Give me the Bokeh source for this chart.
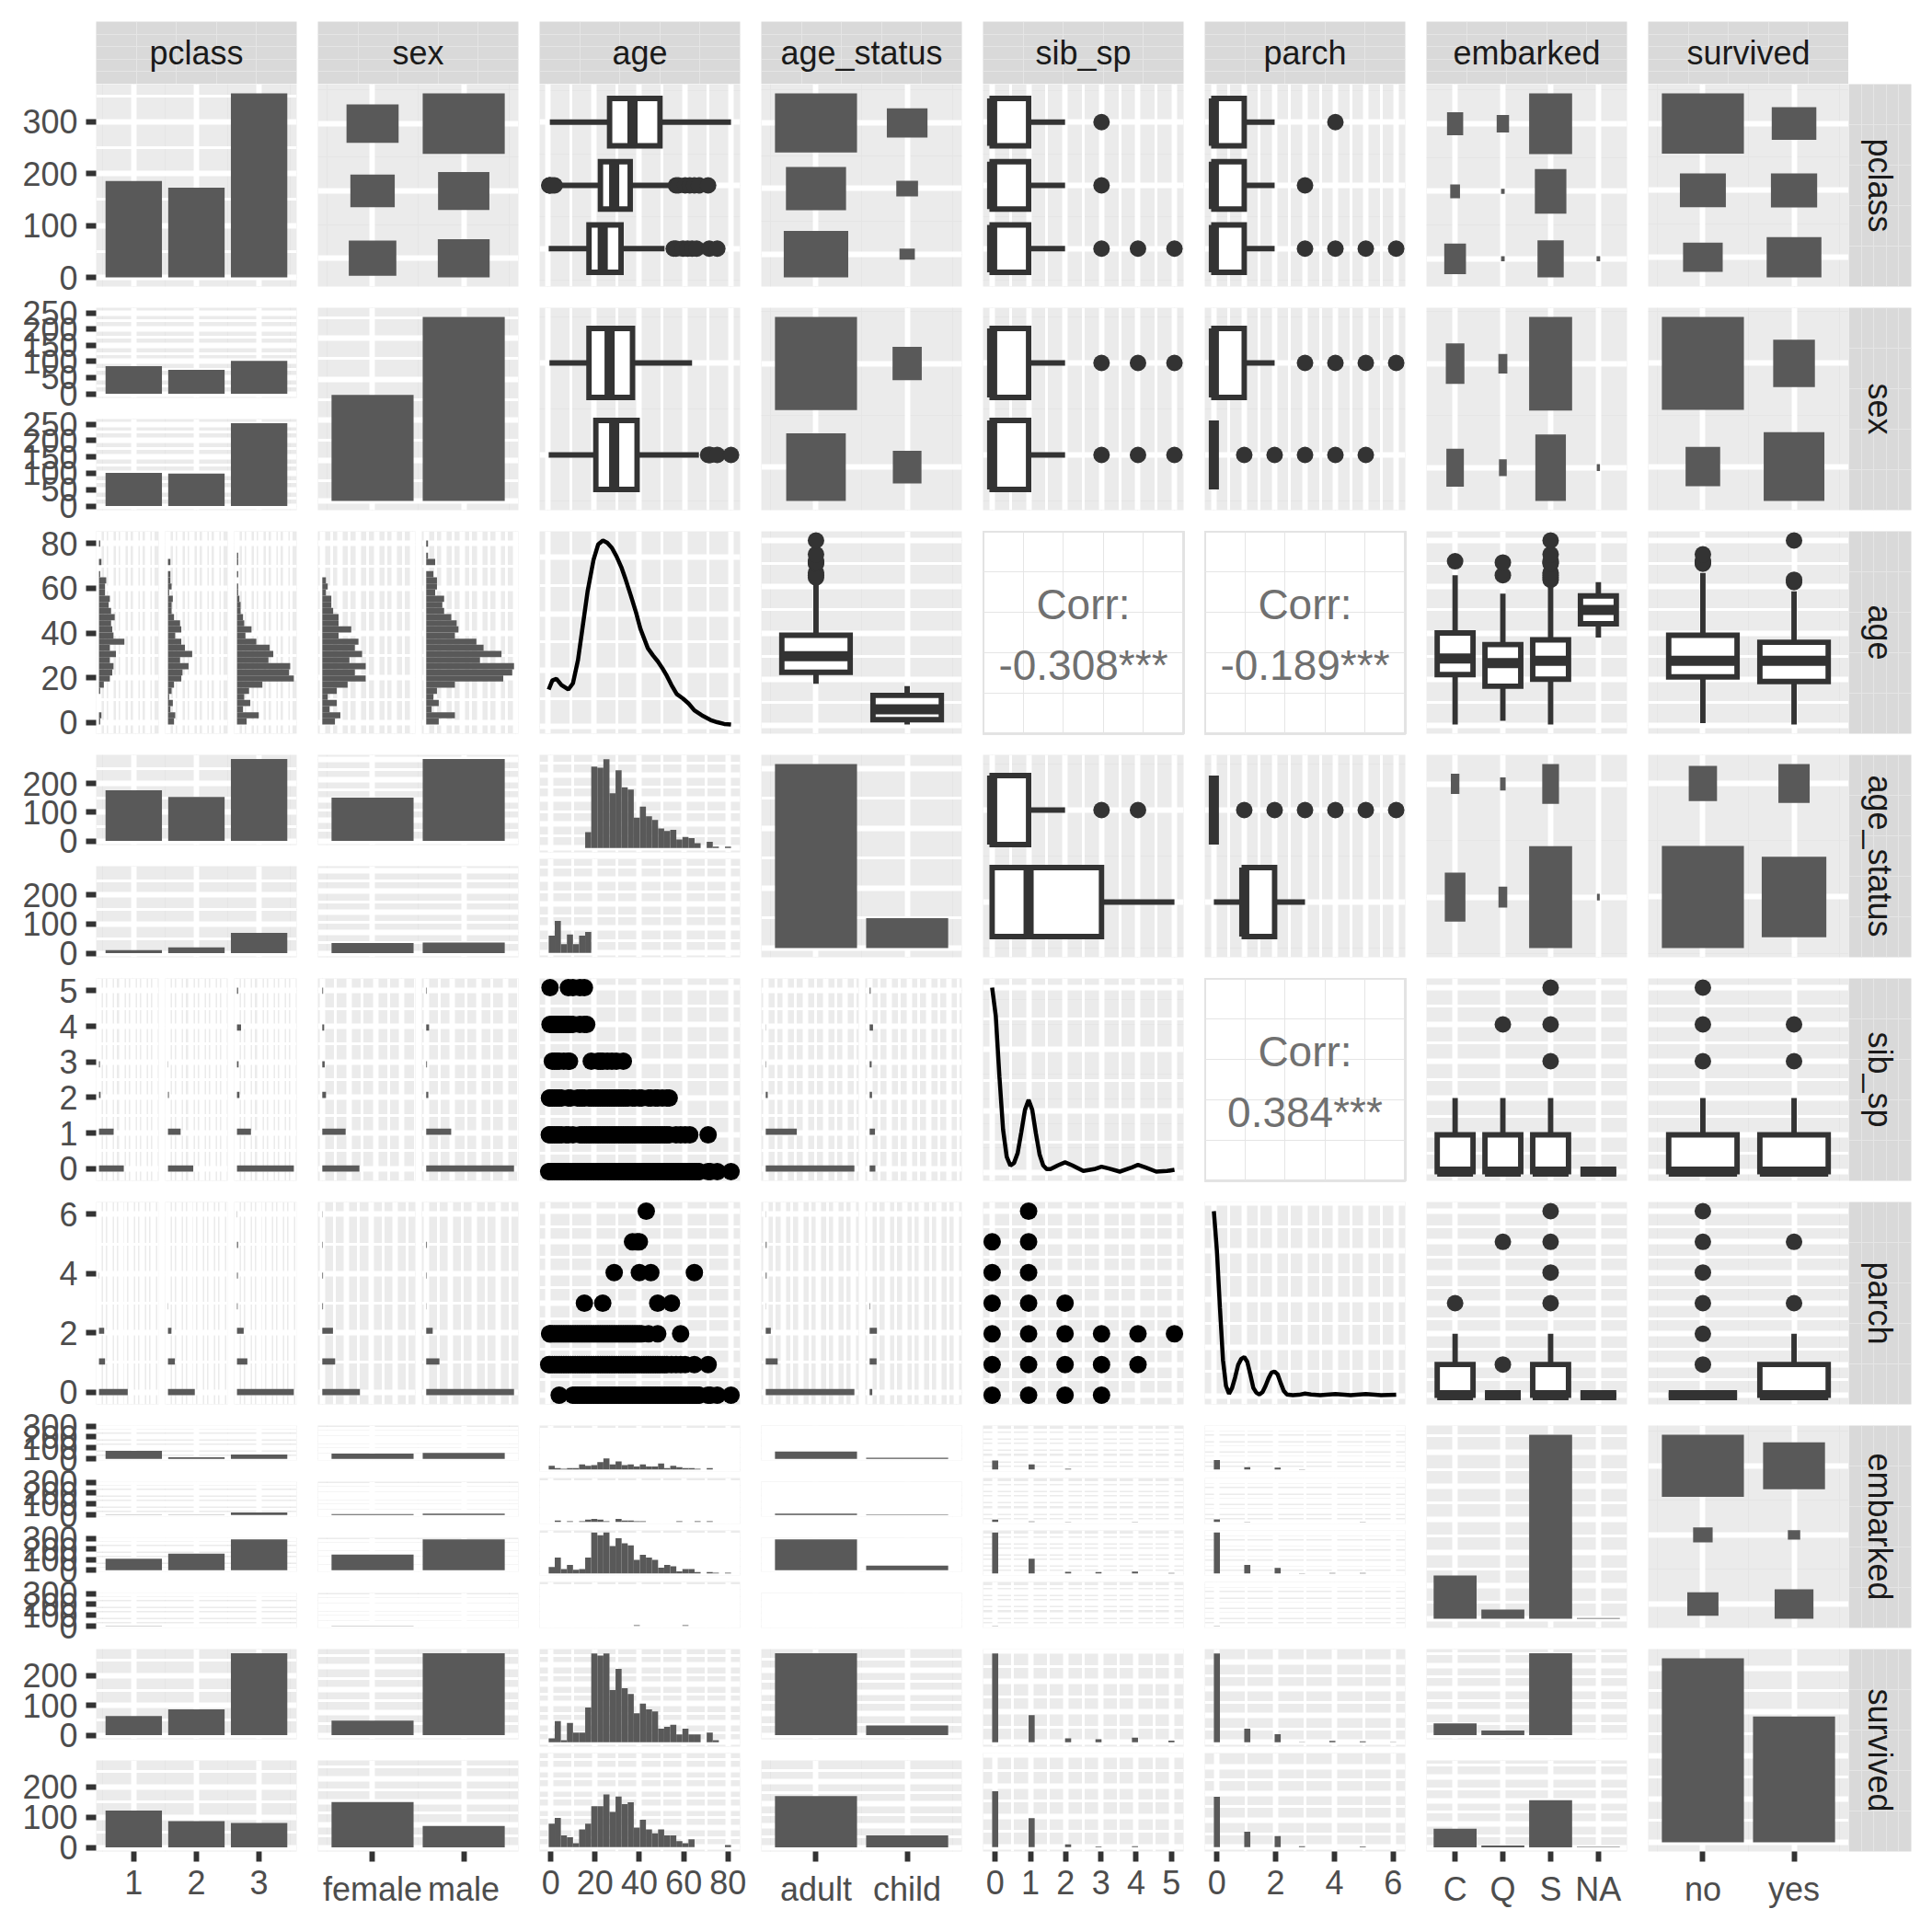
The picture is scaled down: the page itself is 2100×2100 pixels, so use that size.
import math
from bokeh.plotting import figure
from bokeh.layouts import column, row
from bokeh.models import Range1d, FixedTicker, Grid, LinearAxis, Spacer
from bokeh.core.properties import value
from bokeh.embed import file_html
from bokeh.resources import INLINE

# ======================= DATA =======================
variables = ["pclass", "sex", "age", "age_status", "sib_sp", "parch", "embarked", "survived"]
pclass_levels = ["1", "2", "3"]
sex_levels = ["female", "male"]
age_status_levels = ["adult", "child"]
embarked_levels = ["C", "Q", "S", "NA"]
survived_levels = ["no", "yes"]

pclass_counts = [186, 173, 355]
sex_counts = [261, 453]
age_status_counts = [614, 100]
embarked_counts = [130, 28, 554, 2]
survived_counts = [424, 290]

# cross tables [first variable level][second variable level]
pclass_by_sex = [[85, 101], [74, 99], [102, 253]]
pclass_by_age_status = [[176, 10], [153, 20], [285, 70]]
pclass_by_embarked = [[74, 2, 108, 2], [15, 2, 156, 0], [41, 24, 290, 0]]
pclass_by_survived = [[64, 122], [86, 87], [274, 81]]
sex_by_age_status = [[212, 49], [402, 51]]
sex_by_embarked = [[61, 12, 186, 2], [69, 16, 368, 0]]
sex_by_survived = [[64, 197], [360, 93]]
age_status_by_embarked = [[111, 20, 481, 2], [19, 8, 73, 0]]
age_status_by_survived = [[379, 235], [45, 55]]
embarked_by_survived = [[51, 79], [20, 8], [353, 201], [0, 2]]

# continuous variables
age_min, age_max = 0.42, 80
sib_sp_values = [0, 1, 2, 3, 4, 5]
parch_values = [0, 1, 2, 3, 4, 5, 6]

# age histograms (30 bins) per group level
age_hist_by_pclass = [
    [1, 2, 0, 0, 0, 1, 4, 9, 11, 12, 9, 14, 9, 21, 12, 11, 10, 13, 10, 8, 9, 5, 5, 6, 1, 0, 2, 0, 0, 1],
    [5, 6, 2, 4, 1, 3, 5, 11, 12, 17, 10, 20, 14, 11, 6, 11, 10, 5, 3, 3, 4, 1, 3, 2, 2, 0, 2, 0, 0, 0],
    [8, 18, 5, 11, 6, 10, 21, 47, 43, 44, 26, 30, 27, 16, 7, 12, 6, 5, 3, 3, 2, 1, 1, 0, 1, 0, 1, 1, 0, 0]]
age_hist_by_sex = [
    [7, 10, 4, 8, 3, 8, 14, 24, 18, 24, 15, 22, 18, 20, 9, 16, 9, 9, 6, 5, 5, 2, 3, 2, 0, 0, 0, 0, 0, 0],
    [7, 16, 3, 7, 4, 6, 16, 43, 48, 49, 30, 42, 32, 28, 16, 18, 17, 14, 10, 9, 10, 5, 6, 6, 4, 0, 5, 1, 0, 1]]
age_hist_by_age_status = [
    [0, 0, 0, 0, 0, 0, 13, 67, 66, 73, 45, 64, 50, 48, 25, 34, 26, 23, 16, 14, 15, 7, 9, 8, 4, 0, 5, 1, 0, 1],
    [14, 26, 7, 15, 7, 14, 17, 0, 0, 0, 0, 0, 0, 0, 0, 0, 0, 0, 0, 0, 0, 0, 0, 0, 0, 0, 0, 0, 0, 0]]
age_hist_by_embarked = [
    [5, 2, 1, 2, 2, 7, 5, 6, 10, 15, 7, 11, 6, 7, 4, 7, 4, 4, 8, 2, 5, 3, 2, 2, 1, 0, 2, 0, 0, 0],
    [0, 2, 0, 1, 0, 1, 3, 4, 3, 1, 0, 4, 2, 2, 1, 1, 0, 0, 0, 0, 0, 1, 0, 0, 1, 0, 1, 0, 0, 0],
    [9, 22, 6, 12, 5, 6, 22, 57, 53, 57, 38, 49, 42, 39, 19, 26, 22, 19, 8, 12, 10, 3, 6, 6, 2, 0, 2, 1, 0, 1],
    [0, 0, 0, 0, 0, 0, 0, 0, 0, 0, 0, 0, 0, 0, 1, 0, 0, 0, 0, 0, 0, 0, 1, 0, 0, 0, 0, 0, 0, 0]]
age_hist_by_survived = [
    [2, 11, 1, 10, 5, 5, 18, 46, 45, 46, 27, 38, 28, 25, 15, 20, 17, 16, 7, 8, 9, 4, 7, 4, 4, 0, 5, 1, 0, 0],
    [12, 15, 6, 5, 2, 9, 12, 21, 21, 27, 18, 26, 22, 23, 10, 14, 9, 7, 9, 6, 6, 3, 2, 4, 0, 0, 0, 0, 0, 1]]

# sib_sp counts per value (0..5) per group level
sib_sp_by_pclass = [[110, 65, 7, 4, 0, 0], [112, 56, 4, 1, 0, 0], [252, 62, 11, 7, 18, 5]]
sib_sp_by_sex = [[140, 88, 14, 9, 7, 3], [334, 95, 8, 3, 11, 2]]
sib_sp_by_age_status = [[445, 156, 10, 2, 1, 0], [29, 27, 12, 10, 17, 5]]
sib_sp_by_embarked = [[80, 45, 5, 0, 0, 0], [20, 4, 2, 0, 2, 0], [372, 134, 15, 12, 16, 5], [2, 0, 0, 0, 0, 0]]
sib_sp_by_survived = [[292, 89, 13, 10, 15, 5], [182, 94, 9, 2, 3, 0]]

# parch counts per value (0..6) per group level
parch_by_pclass = [[133, 28, 24, 0, 1, 0, 0], [124, 32, 16, 1, 0, 0, 0], [263, 48, 31, 3, 4, 5, 1]]
parch_by_sex = [[155, 53, 44, 3, 3, 2, 1], [365, 55, 27, 1, 2, 3, 0]]
parch_by_age_status = [[505, 68, 29, 1, 5, 5, 1], [15, 40, 42, 3, 0, 0, 0]]
parch_by_embarked = [[90, 22, 17, 1, 0, 0, 0], [25, 2, 0, 0, 0, 1, 0], [403, 84, 54, 3, 5, 4, 1], [2, 0, 0, 0, 0, 0, 0]]
parch_by_survived = [[333, 51, 30, 1, 5, 3, 1], [187, 57, 41, 3, 0, 2, 0]]

# boxplot stats: (lower whisker, q1, median, q3, upper whisker, outliers)
age_box_by_pclass = [(0.92, 27, 37, 49, 80, []),
                     (4, 23, 29, 36, 54, [0.67, 0.83, 1, 2, 3, 56, 57, 60, 62, 64, 66, 70]),
                     (0.42, 18, 24, 32, 51, [55, 56, 59, 61, 63, 65, 70.5, 74])]
age_box_by_sex = [(0.75, 18, 27, 37, 63, []), (0.42, 21, 29, 39, 66, [70, 70.5, 71, 74, 80])]
age_box_by_age_status = [(18, 23, 30, 39, 63, [64, 65, 66, 70, 70.5, 71, 74, 80]), (0.42, 2.5, 7, 13, 17, [])]
age_box_by_embarked = [(0.42, 22, 29, 40, 65, [71]), (2, 17, 27, 35, 57, [65, 70.5]),
                       (0.42, 20, 28, 37, 61, [63, 64, 65, 66, 70, 70.5, 71, 74, 80]), (38, 44, 50, 56, 62, [])]
age_box_by_survived = [(1, 21, 28, 39, 66, [70, 70.5, 71, 74]), (0.42, 19, 28, 36, 58, [62, 63, 80])]
sib_sp_box_by_pclass = [(0, 0, 0, 1, 2, [3]), (0, 0, 0, 1, 2, [3]), (0, 0, 0, 1, 2, [3, 4, 5])]
sib_sp_box_by_sex = [(0, 0, 0, 1, 2, [3, 4, 5]), (0, 0, 0, 1, 2, [3, 4, 5])]
sib_sp_box_by_age_status = [(0, 0, 0, 1, 2, [3, 4]), (0, 0, 1, 3, 5, [])]
sib_sp_box_by_embarked = [(0, 0, 0, 1, 2, []), (0, 0, 0, 1, 2, [4]), (0, 0, 0, 1, 2, [3, 4, 5]), (0, 0, 0, 0, 0, [])]
sib_sp_box_by_survived = [(0, 0, 0, 1, 2, [3, 4, 5]), (0, 0, 0, 1, 2, [3, 4])]
parch_box_by_pclass = [(0, 0, 0, 1, 2, [4]), (0, 0, 0, 1, 2, [3]), (0, 0, 0, 1, 2, [3, 4, 5, 6])]
parch_box_by_sex = [(0, 0, 0, 1, 2, [3, 4, 5, 6]), (0, 0, 0, 0, 0, [1, 2, 3, 4, 5])]
parch_box_by_age_status = [(0, 0, 0, 0, 0, [1, 2, 3, 4, 5, 6]), (0, 1, 1, 2, 3, [])]
parch_box_by_embarked = [(0, 0, 0, 1, 2, [3]), (0, 0, 0, 0, 0, [1, 5]), (0, 0, 0, 1, 2, [3, 4, 5, 6]), (0, 0, 0, 0, 0, [])]
parch_box_by_survived = [(0, 0, 0, 0, 0, [1, 2, 3, 4, 5, 6]), (0, 0, 0, 1, 2, [3, 5])]

# density curves
age_density_x = [0.42, 2, 3.8, 6, 9, 11, 13.2, 15, 17.4, 20, 22, 24.1, 26, 28, 30, 32.1, 34, 36.3, 38.5,
                 40.5, 43.7, 46, 48, 50, 52, 54, 56.3, 59, 61.5, 64, 67.8, 71, 74, 77, 80]
age_density_y = [0.0066, 0.0082, 0.0085, 0.0074, 0.0066, 0.0077, 0.0118, 0.0170, 0.0240, 0.0296, 0.0323,
                 0.0330, 0.0326, 0.0317, 0.0302, 0.0283, 0.0261, 0.0232, 0.0203, 0.0173, 0.0139, 0.0126,
                 0.0116, 0.0104, 0.0090, 0.0074, 0.0058, 0.0050, 0.0041, 0.0029, 0.0019, 0.0012, 0.0008,
                 0.0005, 0.0004]
sib_sp_density_x = [0, 0.1, 0.2, 0.3, 0.4, 0.5, 0.6, 0.7, 0.8, 0.9, 1.0, 1.1, 1.2, 1.3, 1.4, 1.5, 1.6, 1.8,
                    2.0, 2.2, 2.5, 2.8, 3.0, 3.2, 3.5, 3.8, 4.0, 4.2, 4.5, 4.8, 5.0]
sib_sp_density_y = [1.50, 1.27, 0.78, 0.35, 0.13, 0.06, 0.08, 0.16, 0.33, 0.51, 0.59, 0.51, 0.32, 0.15, 0.06,
                    0.03, 0.03, 0.06, 0.085, 0.06, 0.015, 0.03, 0.05, 0.035, 0.01, 0.04, 0.065, 0.045, 0.01,
                    0.015, 0.025]
parch_density_x = [0, 0.1, 0.2, 0.3, 0.4, 0.5, 0.6, 0.7, 0.8, 0.9, 1.0, 1.1, 1.2, 1.3, 1.4, 1.5, 1.6, 1.7,
                   1.8, 1.9, 2.0, 2.1, 2.2, 2.3, 2.4, 2.6, 2.8, 3.0, 3.2, 3.5, 4.0, 4.5, 5.0, 5.5, 6.0]
parch_density_y = [1.91, 1.50, 0.91, 0.37, 0.10, 0.02, 0.08, 0.19, 0.32, 0.38, 0.40, 0.35, 0.22, 0.08, 0.03,
                   0.013, 0.036, 0.10, 0.18, 0.24, 0.25, 0.22, 0.13, 0.05, 0.013, 0.005, 0.009, 0.022, 0.013,
                   0.005, 0.018, 0.005, 0.018, 0.005, 0.009]

# scatter: ages seen at each sib_sp / parch value
age_at_sib_sp = [
    [0.42, 1, 2, 3, 4, 5, 6, 7, 8, 9, 10, 11, 12, 13, 14, 15, 16, 17, 18, 19, 20, 21, 22, 23, 24, 25, 26, 27,
     28, 29, 30, 31, 32, 33, 34, 35, 36, 37, 38, 39, 40, 41, 42, 43, 44, 45, 46, 47, 48, 49, 50, 51, 52, 53,
     54, 55, 56, 57, 58, 59, 60, 61, 62, 63, 64, 65, 66, 70, 71, 74, 80],
    [0.67, 1, 2, 3, 4, 5, 6, 8, 9, 11, 14, 15, 16, 17, 18, 19, 20, 21, 22, 23, 24, 25, 26, 27, 28, 29, 30, 31,
     32, 33, 34, 35, 36, 37, 38, 39, 40, 41, 42, 43, 44, 45, 46, 47, 48, 49, 50, 51, 52, 53, 56, 58, 60, 62, 70],
    [0.75, 1, 2, 3, 4, 5, 6, 9, 10, 13, 14, 15, 16, 18, 19, 20, 21, 22, 23, 24, 25, 26, 27, 28, 29, 30, 31,
     32, 33, 34, 35, 37, 38, 40, 41, 44, 45, 47, 48, 50, 52, 53],
    [2, 3, 4, 5, 7, 9, 9.5, 19, 22, 23, 24, 26, 28, 30, 33],
    [1, 2, 2, 3, 4, 4, 5, 6, 7, 8, 9, 9, 10, 11, 14, 16, 17],
    [1, 9, 11, 14, 16]]
age_at_parch = [
    [5, 11, 12, 13, 14, 15, 16, 17, 18, 19, 20, 21, 22, 23, 24, 25, 26, 27, 28, 29, 30, 31, 32, 33, 34, 35,
     36, 37, 38, 39, 40, 41, 42, 43, 44, 45, 46, 47, 48, 49, 50, 51, 52, 53, 54, 55, 56, 57, 58, 59, 60, 61,
     62, 63, 64, 65, 66, 70, 71, 74, 80],
    [0.42, 1, 2, 3, 4, 5, 6, 7, 8, 9, 10, 11, 12, 13, 14, 15, 16, 17, 18, 19, 20, 21, 22, 23, 24, 25, 26, 27,
     28, 29, 30, 31, 32, 33, 34, 35, 36, 37, 38, 39, 40, 41, 42, 43, 44, 45, 46, 47, 48, 49, 50, 51, 52, 54,
     56, 58, 60, 64, 70],
    [0.83, 1, 2, 3, 4, 5, 6, 7, 8, 9, 10, 11, 12, 13, 14, 15, 16, 17, 18, 19, 20, 21, 22, 23, 24, 25, 26, 27,
     28, 29, 30, 31, 32, 33, 34, 35, 36, 37, 38, 39, 40, 41, 44, 48, 58],
    [16, 24, 48, 54],
    [29, 40, 45, 64],
    [37, 39, 40],
    [43]]
# sib_sp / parch combinations present
sib_parch_sib = [1, 0, 1, 0, 1, 0, 1, 2, 0, 1, 2, 3, 4, 5, 0, 1, 2, 3, 4, 0, 1, 2, 3]
sib_parch_parch = [6, 5, 5, 4, 4, 3, 3, 3, 2, 2, 2, 2, 2, 2, 1, 1, 1, 1, 1, 0, 0, 0, 0]

corr_age_sib_sp = "-0.308***"
corr_age_parch = "-0.189***"
corr_sib_sp_parch = "0.384***"

# ======================= STYLE / LAYOUT =======================
FONT = "Liberation Sans"
PANEL_BG = "#EBEBEB"
STRIP_BG = "#D9D9D9"
FILL = "#595959"
LINE = "#333333"
MAJOR_W = 5.9
MINOR_W = 3.0
AXIS_FONT = "36px"

LEFT, PW, PH, GAP, BOTTOM = 104, 218, 220, 23, 88
STRIP, MARGIN = 68, 23
FGAP_BAR, FGAP_HIST = 23, 7
PAD = 26  # extra transparent room above figures that carry a left axis

LEVELS = {"pclass": pclass_levels, "sex": sex_levels, "age_status": age_status_levels,
          "embarked": embarked_levels, "survived": survived_levels}
COUNTS = {"pclass": pclass_counts, "sex": sex_counts, "age_status": age_status_counts,
          "embarked": embarked_counts, "survived": survived_counts}
TABLES = {("pclass", "sex"): pclass_by_sex, ("pclass", "age_status"): pclass_by_age_status,
          ("pclass", "embarked"): pclass_by_embarked, ("pclass", "survived"): pclass_by_survived,
          ("sex", "age_status"): sex_by_age_status, ("sex", "embarked"): sex_by_embarked,
          ("sex", "survived"): sex_by_survived, ("age_status", "embarked"): age_status_by_embarked,
          ("age_status", "survived"): age_status_by_survived, ("embarked", "survived"): embarked_by_survived}
CONT_RANGE = {"age": (age_min, age_max), "sib_sp": (min(sib_sp_values), max(sib_sp_values)),
              "parch": (min(parch_values), max(parch_values))}
VALUES = {"sib_sp": sib_sp_values, "parch": parch_values}
AGE_HIST = {"pclass": age_hist_by_pclass, "sex": age_hist_by_sex, "age_status": age_hist_by_age_status,
            "embarked": age_hist_by_embarked, "survived": age_hist_by_survived}
VAL_TAB = {"sib_sp": {"pclass": sib_sp_by_pclass, "sex": sib_sp_by_sex, "age_status": sib_sp_by_age_status,
                      "embarked": sib_sp_by_embarked, "survived": sib_sp_by_survived},
           "parch": {"pclass": parch_by_pclass, "sex": parch_by_sex, "age_status": parch_by_age_status,
                     "embarked": parch_by_embarked, "survived": parch_by_survived}}
BOX = {"age": {"pclass": age_box_by_pclass, "sex": age_box_by_sex, "age_status": age_box_by_age_status,
               "embarked": age_box_by_embarked, "survived": age_box_by_survived},
       "sib_sp": {"pclass": sib_sp_box_by_pclass, "sex": sib_sp_box_by_sex, "age_status": sib_sp_box_by_age_status,
                  "embarked": sib_sp_box_by_embarked, "survived": sib_sp_box_by_survived},
       "parch": {"pclass": parch_box_by_pclass, "sex": parch_box_by_sex, "age_status": parch_box_by_age_status,
                 "embarked": parch_box_by_embarked, "survived": parch_box_by_survived}}
DENS = {"age": (age_density_x, age_density_y), "sib_sp": (sib_sp_density_x, sib_sp_density_y),
        "parch": (parch_density_x, parch_density_y)}
CORR = {("age", "sib_sp"): corr_age_sib_sp, ("age", "parch"): corr_age_parch,
        ("sib_sp", "parch"): corr_sib_sp_parch}


def cross(a, b):
    if (a, b) in TABLES:
        return TABLES[(a, b)]
    t = TABLES[(b, a)]
    return [[t[j][i] for j in range(len(t))] for i in range(len(t[0]))]


# ---------- ggplot-like break selection (labeling::extended) ----------
def extended(dmin, dmax, m=5):
    Q = [1, 5, 2, 2.5, 4, 3]
    w = [0.25, 0.2, 0.5, 0.05]
    eps = 1e-10
    n = len(Q)
    if dmax - dmin < eps:
        return [dmin]
    rng = dmax - dmin

    def simplicity(i, j, lmin, lmax, lstep):
        rem = lmin % lstep
        v = 1 if ((rem < eps or lstep - rem < eps) and lmin <= 0 and lmax >= 0) else 0
        return 1 - i / (n - 1) - j + v

    def coverage(lmin, lmax):
        return 1 - 0.5 * ((dmax - lmax) ** 2 + (dmin - lmin) ** 2) / ((0.1 * rng) ** 2)

    def coverage_max(span):
        if span > rng:
            half = (span - rng) / 2
            return 1 - 0.5 * (2 * half ** 2) / ((0.1 * rng) ** 2)
        return 1

    def density(k, lmin, lmax):
        r = (k - 1) / (lmax - lmin)
        rt = (m - 1) / (max(lmax, dmax) - min(dmin, lmin))
        return 2 - max(r / rt, rt / r)

    def density_max(k):
        return 2 - (k - 1) / (m - 1) if k >= m else 1

    best, best_score = None, -2.0
    j = 1
    done = False
    while j < 30 and not done:
        for i, q in enumerate(Q):
            sm = 2 - i / (n - 1) - j
            if w[0] * sm + w[1] + w[2] + w[3] < best_score:
                done = True
                break
            k = 2
            while k < 30:
                dm = density_max(k)
                if w[0] * sm + w[1] + w[2] * dm + w[3] < best_score:
                    break
                delta = rng / (k + 1) / j / q
                z = int(math.ceil(math.log10(delta)))
                while z < 30:
                    step = j * q * (10.0 ** z)
                    cm = coverage_max(step * (k - 1))
                    if w[0] * sm + w[1] * cm + w[2] * dm + w[3] < best_score:
                        break
                    min_start = int(math.floor(dmax / step) * j - (k - 1) * j)
                    max_start = int(math.ceil(dmin / step) * j)
                    if min_start <= max_start:
                        for start in range(min_start, max_start + 1):
                            lmin = start * (step / j)
                            lmax = lmin + step * (k - 1)
                            s = simplicity(i, j, lmin, lmax, step)
                            c = coverage(lmin, lmax)
                            g = density(k, lmin, lmax)
                            score = w[0] * s + w[1] * c + w[2] * g + w[3]
                            if score > best_score:
                                best_score = score
                                best = (lmin, lmax, step)
                    z += 1
                k += 1
        j += 1
    lmin, lmax, step = best
    nt = int(round((lmax - lmin) / step))
    out = []
    for t in range(nt + 1):
        v = round(lmin + t * step, 10)
        if abs(v - round(v)) < 1e-9:
            v = int(round(v))
        out.append(v)
    return out


def expand(lo, hi, f=0.05):
    d = (hi - lo) * f
    return (lo - d, hi + d)


def breaks(dmin, dmax, lim):
    ext = extended(dmin, dmax)
    eps = 1e-9 * (lim[1] - lim[0])
    maj = [t for t in ext if lim[0] - eps <= t <= lim[1] + eps]
    mi = []
    if len(maj) >= 2:
        step = maj[1] - maj[0]
        b = list(maj)
        if b[0] > lim[0]:
            b = [b[0] - step] + b
        if b[-1] < lim[1]:
            b = b + [b[-1] + step]
        mi = [(b[i] + b[i + 1]) / 2 for i in range(len(b) - 1)]
        mi = [t for t in mi if lim[0] <= t <= lim[1]]
    return maj, mi


def disc_lim(n):
    return (0.4, n + 0.6)


def hist_edges(var):
    lo, hi = CONT_RANGE[var]
    bw = (hi - lo) / 29
    return [lo - bw / 2 + k * bw for k in range(31)]


def value_bins(var, counts):
    lo, hi = CONT_RANGE[var]
    bw = (hi - lo) / 29
    out = [0] * 30
    for v, n in zip(VALUES[var], counts):
        k = int(math.ceil((v - lo) / bw - 0.5 - 1e-9))
        out[min(max(k, 0), 29)] += n
    return out


def hist_counts(cv, dv):
    if cv == "age":
        return AGE_HIST[dv]
    return [value_bins(cv, rc) for rc in VAL_TAB[cv][dv]]


# ---------- figure helpers ----------
def new_fig(w, h, bl, br, bb, xr, yr, bg=PANEL_BG, bt=0, pad=0):
    p = figure(width=int(w), height=int(h + pad), x_range=Range1d(xr[0], xr[1]), y_range=Range1d(yr[0], yr[1]),
               x_axis_location=None, y_axis_location=None, toolbar_location=None,
               output_backend="svg", min_border_left=int(bl), min_border_right=int(br),
               min_border_top=int(bt + pad), min_border_bottom=int(bb))
    p.title.visible = False
    p.background_fill_color = bg
    if pad:
        p.margin = (-int(pad), 0, 0, 0)
        p.border_fill_color = None
    else:
        p.border_fill_color = "white"
    p.outline_line_color = None
    return p


def add_grid(p, dim, major, minor=()):
    g = Grid(dimension=dim, ticker=FixedTicker(ticks=list(major), minor_ticks=list(minor)))
    g.grid_line_color = "white"
    g.grid_line_width = MAJOR_W
    g.minor_grid_line_color = "white" if len(minor) else None
    g.minor_grid_line_width = MINOR_W
    p.add_layout(g)


def add_axis(p, side, ticks, labels=None):
    ax = LinearAxis(ticker=FixedTicker(ticks=list(ticks)))
    if labels is not None:
        ax.major_label_overrides = {t: str(l) for t, l in zip(ticks, labels)}
    ax.axis_line_color = None
    ax.major_tick_line_color = LINE
    ax.major_tick_line_width = MAJOR_W
    ax.major_tick_in = 0
    ax.major_tick_out = 11
    ax.minor_tick_line_color = None
    ax.major_label_text_font = FONT
    ax.major_label_text_font_size = AXIS_FONT
    ax.major_label_text_color = "#4D4D4D"
    ax.major_label_standoff = 9
    p.add_layout(ax, side)


def cell_dims(r, c):
    bl = LEFT if c == 0 else 0
    br = GAP if c < 7 else 0
    bb = GAP if r < 7 else BOTTOM
    return bl, br, bb


def split(total, n, gap):
    avail = total - gap * (n - 1)
    base = avail / n
    return [int(round(base * (i + 1))) - int(round(base * i)) for i in range(n)]


def row_facets(r, c, n, gap, make):
    bl, br, bb = cell_dims(r, c)
    hs = split(PH, n, gap)
    figs = []
    for i in range(n):
        bbi = gap if i < n - 1 else bb
        figs.append(make(i, bl + PW + br, hs[i] + bbi, bl, br, bbi))
    return column(*figs)


def col_facets(r, c, n, gap, make):
    bl, br, bb = cell_dims(r, c)
    ws = split(PW, n, gap)
    figs = []
    for j in range(n):
        blj = bl if j == 0 else 0
        brj = gap if j < n - 1 else br
        figs.append(make(j, blj + ws[j] + brj, PH + bb, blj, brj, bb))
    return row(*figs)


# ---------- panel types ----------
def bar_diag(r, c):
    var = variables[r]
    counts = COUNTS[var]
    n = len(counts)
    M = max(counts)
    bl, br, bb = cell_dims(r, c)
    xlim, ylim = disc_lim(n), expand(0, M)
    ymaj, ymin = breaks(0, M, ylim)
    xs = list(range(1, n + 1))
    p = new_fig(bl + PW + br, PH + bb, bl, br, bb, xlim, ylim, pad=PAD if c == 0 else 0)
    add_grid(p, 0, xs)
    add_grid(p, 1, ymaj, ymin)
    p.vbar(x=xs, width=0.9, bottom=0, top=counts, fill_color=FILL, line_color=None)
    if c == 0:
        add_axis(p, "left", ymaj)
        return column(p)
    if r == 7:
        add_axis(p, "below", xs, LEVELS[var])
    return p


def count_panel(r, c):
    yv, xv = variables[r], variables[c]
    tab = cross(yv, xv)
    ylev, xlev = LEVELS[yv], LEVELS[xv]
    ny, nx = len(ylev), len(xlev)
    M = max(max(t) for t in tab)
    xs, ys, ss = [], [], []
    for i in range(ny):
        if ylev[i] == "NA":      # missing values have no place on the numeric y scale
            continue
        for j in range(nx):
            if tab[i][j] > 0:
                xs.append(j + 1)
                ys.append(i + 1)
                ss.append(0.9 * math.sqrt(tab[i][j] / M))
    ylim = expand(min(y - s / 2 for y, s in zip(ys, ss)), max(y + s / 2 for y, s in zip(ys, ss)))
    bl, br, bb = cell_dims(r, c)
    p = new_fig(bl + PW + br, PH + bb, bl, br, bb, disc_lim(nx), ylim)
    add_grid(p, 0, list(range(1, nx + 1)))
    add_grid(p, 1, [k for k in range(1, ny + 1) if ylim[0] <= k <= ylim[1]])
    p.rect(x=xs, y=ys, width=ss, height=ss, fill_color=FILL, line_color=None)
    return p


def facetbar(r, c):
    fv, xv = variables[r], variables[c]
    tab = cross(fv, xv)
    nf, nx = len(LEVELS[fv]), len(LEVELS[xv])
    M = max(max(t) for t in tab)
    xlim, ylim = disc_lim(nx), expand(0, M)
    ymaj, ymin = breaks(0, M, ylim)
    xs = list(range(1, nx + 1))

    def make(i, w, h, bl, br, bb):
        p = new_fig(w, h, bl, br, bb, xlim, ylim, pad=PAD if c == 0 else 0)
        add_grid(p, 0, xs)
        add_grid(p, 1, ymaj, ymin)
        bx = [x for x, v in zip(xs, tab[i]) if v > 0]
        bt = [v for v in tab[i] if v > 0]
        p.vbar(x=bx, width=0.9, bottom=0, top=bt, fill_color=FILL, line_color=None)
        if c == 0:
            add_axis(p, "left", ymaj)
        if r == 7 and i == nf - 1:
            add_axis(p, "below", xs, LEVELS[xv])
        return p
    return row_facets(r, c, nf, FGAP_BAR, make)


def draw_boxes(p, stats, horizontal):
    n = len(stats)
    hw = 0.375
    pos, wl, q1, md, q3, wh, op, ov = [], [], [], [], [], [], [], []
    for i, (a, b, m, d, e, outs) in enumerate(stats):
        k = (n - i) if horizontal else (i + 1)
        pos.append(k)
        wl.append(a)
        q1.append(b)
        md.append(m)
        q3.append(d)
        wh.append(e)
        for o in outs:
            op.append(k)
            ov.append(o)
    lo_ = [k - hw for k in pos]
    hi_ = [k + hw for k in pos]
    if horizontal:
        p.segment(x0=wl, y0=pos, x1=q1, y1=pos, line_color=LINE, line_width=MAJOR_W)
        p.segment(x0=q3, y0=pos, x1=wh, y1=pos, line_color=LINE, line_width=MAJOR_W)
        p.quad(left=q1, right=q3, bottom=lo_, top=hi_, fill_color="white", line_color=LINE,
               line_width=MAJOR_W, line_join="miter")
        p.segment(x0=md, y0=lo_, x1=md, y1=hi_, line_color=LINE, line_width=11)
        p.scatter(x=ov, y=op, size=18, marker="circle", fill_color=LINE, line_color=None)
    else:
        p.segment(x0=pos, y0=wl, x1=pos, y1=q1, line_color=LINE, line_width=MAJOR_W)
        p.segment(x0=pos, y0=q3, x1=pos, y1=wh, line_color=LINE, line_width=MAJOR_W)
        p.quad(left=lo_, right=hi_, bottom=q1, top=q3, fill_color="white", line_color=LINE,
               line_width=MAJOR_W, line_join="miter")
        p.segment(x0=lo_, y0=md, x1=hi_, y1=md, line_color=LINE, line_width=11)
        p.scatter(x=op, y=ov, size=18, marker="circle", fill_color=LINE, line_color=None)


def box_h(r, c):
    dv, cv = variables[r], variables[c]
    stats = BOX[cv][dv]
    n = len(stats)
    lo, hi = CONT_RANGE[cv]
    xlim, ylim = expand(lo, hi), disc_lim(n)
    xmaj, xmin = breaks(lo, hi, xlim)
    bl, br, bb = cell_dims(r, c)
    p = new_fig(bl + PW + br, PH + bb, bl, br, bb, xlim, ylim)
    add_grid(p, 0, xmaj, xmin)
    add_grid(p, 1, list(range(1, n + 1)))
    draw_boxes(p, stats, True)
    return p


def box_v(r, c):
    cv, dv = variables[r], variables[c]
    stats = BOX[cv][dv]
    n = len(stats)
    lo, hi = CONT_RANGE[cv]
    xlim, ylim = disc_lim(n), expand(lo, hi)
    ymaj, ymin = breaks(lo, hi, ylim)
    bl, br, bb = cell_dims(r, c)
    p = new_fig(bl + PW + br, PH + bb, bl, br, bb, xlim, ylim)
    add_grid(p, 0, list(range(1, n + 1)))
    add_grid(p, 1, ymaj, ymin)
    draw_boxes(p, stats, False)
    return p


def hist_rows(r, c):
    dv, cv = variables[r], variables[c]
    data = hist_counts(cv, dv)
    nf = len(data)
    edges = hist_edges(cv)
    M = max(max(d) for d in data)
    xlim, ylim = expand(edges[0], edges[-1]), expand(0, M)
    xmaj, xmin = breaks(edges[0], edges[-1], xlim)
    ymaj, ymin = breaks(0, M, ylim)

    def make(i, w, h, bl, br, bb):
        p = new_fig(w, h, bl, br, bb, xlim, ylim, pad=PAD if c == 0 else 0)
        add_grid(p, 0, xmaj, xmin)
        add_grid(p, 1, ymaj, ymin)
        ks = [k for k in range(30) if data[i][k] > 0]
        p.quad(left=[edges[k] for k in ks], right=[edges[k + 1] for k in ks], bottom=0,
               top=[data[i][k] for k in ks], fill_color=FILL, line_color=None)
        if c == 0:
            add_axis(p, "left", ymaj)
        if r == 7 and i == nf - 1:
            add_axis(p, "below", xmaj)
        return p
    return row_facets(r, c, nf, FGAP_HIST, make)


def hist_cols(r, c):
    cv, dv = variables[r], variables[c]
    data = hist_counts(cv, dv)
    nf = len(data)
    edges = hist_edges(cv)
    M = max(max(d) for d in data)
    xlim, ylim = expand(0, M), expand(edges[0], edges[-1])
    xmaj, xmin = breaks(0, M, xlim)
    ymaj, ymin = breaks(edges[0], edges[-1], ylim)

    def make(j, w, h, bl, br, bb):
        with_axis = (c == 0 and j == 0)
        p = new_fig(w, h, bl, br, bb, xlim, ylim, pad=PAD if with_axis else 0)
        add_grid(p, 0, xmaj, xmin)
        add_grid(p, 1, ymaj, ymin)
        ks = [k for k in range(30) if data[j][k] > 0]
        p.quad(left=0, right=[data[j][k] for k in ks], bottom=[edges[k] for k in ks],
               top=[edges[k + 1] for k in ks], fill_color=FILL, line_color=None)
        if with_axis:
            add_axis(p, "left", ymaj)
            return column(p)
        return p
    return col_facets(r, c, nf, FGAP_HIST, make)


def density_panel(r, c):
    var = variables[r]
    xs, ds = DENS[var]
    lo, hi = CONT_RANGE[var]
    xlim, ylim = expand(lo, hi), expand(min(ds), max(ds))
    xmaj, xmin = breaks(lo, hi, xlim)
    ymaj, ymin = breaks(min(ds), max(ds), ylim)
    bl, br, bb = cell_dims(r, c)
    p = new_fig(bl + PW + br, PH + bb, bl, br, bb, xlim, ylim)
    add_grid(p, 0, xmaj, xmin)
    add_grid(p, 1, ymaj, ymin)
    p.line(x=xs, y=ds, line_color="black", line_width=4.5)
    return p


def corr_panel(r, c):
    txt = CORR[(variables[r], variables[c])]
    bl, br, bb = cell_dims(r, c)
    p = new_fig(bl + PW + br, PH + bb, bl, br, bb, (0, 1), (0, 1), bg="white")
    p.outline_line_color = "#E3E3E3"
    p.outline_line_width = 3
    p.text(x=[0.5, 0.5], y=[0.64, 0.34], text=["Corr:", txt], text_align="center",
           text_baseline="middle", text_font=value(FONT), text_font_size="46px", text_color="#707070")
    return p


def scatter_panel(r, c):
    yv, xv = variables[r], variables[c]
    if (yv, xv) == ("sib_sp", "age"):
        xs = [a for lst in age_at_sib_sp for a in lst]
        ys = [v for v, lst in zip(sib_sp_values, age_at_sib_sp) for _ in lst]
    elif (yv, xv) == ("parch", "age"):
        xs = [a for lst in age_at_parch for a in lst]
        ys = [v for v, lst in zip(parch_values, age_at_parch) for _ in lst]
    else:
        xs, ys = sib_parch_sib, sib_parch_parch
    xlo, xhi = CONT_RANGE[xv]
    ylo, yhi = CONT_RANGE[yv]
    xlim, ylim = expand(xlo, xhi), expand(ylo, yhi)
    xmaj, xmin = breaks(xlo, xhi, xlim)
    ymaj, ymin = breaks(ylo, yhi, ylim)
    bl, br, bb = cell_dims(r, c)
    p = new_fig(bl + PW + br, PH + bb, bl, br, bb, xlim, ylim)
    add_grid(p, 0, xmaj, xmin)
    add_grid(p, 1, ymaj, ymin)
    p.scatter(x=xs, y=ys, size=19, marker="circle", fill_color="black", line_color=None)
    return p


def panel(r, c):
    dr = variables[r] in LEVELS
    dc = variables[c] in LEVELS
    if r == c:
        return bar_diag(r, c) if dr else density_panel(r, c)
    if dr and dc:
        return count_panel(r, c) if r < c else facetbar(r, c)
    if dr and not dc:
        return box_h(r, c) if r < c else hist_rows(r, c)
    if dc and not dr:
        return box_v(r, c) if r < c else hist_cols(r, c)
    return corr_panel(r, c) if r < c else scatter_panel(r, c)


def top_strip(c):
    bl, br, _ = cell_dims(0, c)
    p = new_fig(bl + PW + br, MARGIN + STRIP, bl, br, 0, (0, 1), (0, 1), bg=STRIP_BG, bt=MARGIN)
    p.text(x=[0.5], y=[0.5], text=[variables[c]], text_align="center", text_baseline="middle",
           text_font=value(FONT), text_font_size="36px", text_color="#1A1A1A")
    return p


def right_strip(r):
    _, _, bb = cell_dims(r, 7)
    p = new_fig(STRIP + MARGIN, PH + bb, 0, MARGIN, bb, (0, 1), (0, 1), bg=STRIP_BG)
    p.text(x=[0.5], y=[0.5], text=[variables[r]], text_align="center", text_baseline="middle",
           angle=-math.pi / 2, text_font=value(FONT), text_font_size="36px", text_color="#1A1A1A")
    return p


rows = [row(*([top_strip(c) for c in range(8)] + [Spacer(width=STRIP + MARGIN, height=STRIP + MARGIN)]))]
for r in range(8):
    rows.append(row(*([panel(r, c) for c in range(8)] + [right_strip(r)])))
layout = column(*rows)

open("out.html", "w").write(file_html(layout, INLINE))
